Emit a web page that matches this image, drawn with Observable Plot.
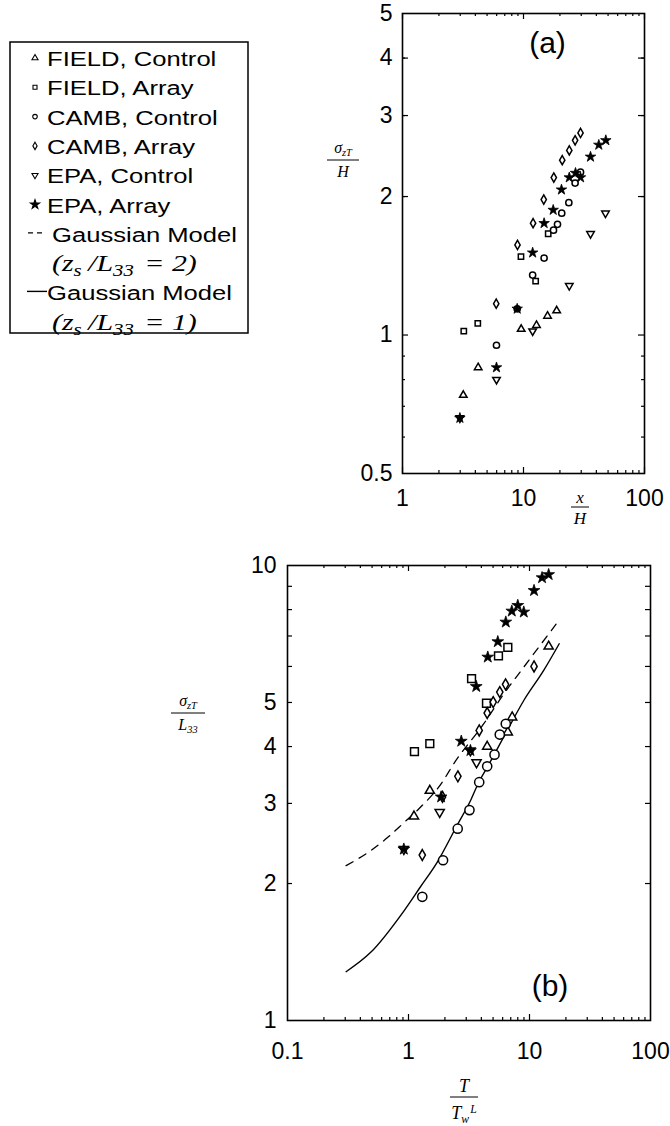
<!DOCTYPE html>
<html><head><meta charset="utf-8">
<script src="https://cdn.jsdelivr.net/npm/d3@7"></script>
<script src="https://cdn.jsdelivr.net/npm/@observablehq/plot@0.6"></script>
<style>
body{margin:0;background:#fff;}
#wrap{position:relative;width:670px;height:1126px;overflow:hidden;background:#fff;}
#wrap > svg{position:absolute;left:0;}
</style></head><body><div id="wrap"></div>
<script>
// ---------- Panel (a) data: x/H vs sigma_zT/H ----------
const aFieldControl = [[18.8,1.13],[15.8,1.10],[12.8,1.05],[9.57,1.03],[4.22,0.85],[3.18,0.74]];
const aFieldArray   = [[16.0,1.66],[9.53,1.48],[12.6,1.31],[4.19,1.06],[3.21,1.02]];
const aCambControl  = [[29.6,2.26],[26.7,2.14],[23.7,1.94],[20.7,1.84],[19.1,1.74],[17.7,1.69],[14.8,1.47],[11.9,1.35],[5.98,0.95],[8.87,1.14]];
const aCambArray    = [[29.6,2.75],[26.7,2.65],[23.9,2.52],[20.9,2.40],[17.8,2.20],[14.7,1.97],[12.0,1.75],[8.92,1.57],[5.95,1.17]];
const aEpaControl   = [[47.6,1.84],[35.8,1.66],[23.9,1.28],[11.9,1.02],[5.98,0.80],[2.98,0.66]];
const aEpaArray     = [[47.9,2.65],[41.9,2.59],[35.8,2.44],[26.9,2.25],[23.9,2.20],[29.6,2.20],[20.6,2.07],[17.6,1.87],[14.8,1.75],[11.9,1.51],[5.98,0.85],[2.98,0.66],[8.87,1.14]];

// ---------- Panel (b) data: T/TwL vs sigma_zT/L33 ----------
const bFieldControl = [[14.4,6.64],[7.19,4.64],[6.62,4.30],[4.47,4.00],[1.50,3.20],[1.11,2.81]];
const bFieldArray   = [[6.62,6.61],[5.54,6.33],[3.32,5.64],[4.41,4.98],[1.50,4.06],[1.12,3.90]];
const bCambControl  = [[6.37,4.49],[5.68,4.25],[5.14,3.84],[4.47,3.62],[3.84,3.34],[3.19,2.90],[2.55,2.64],[1.93,2.25],[1.30,1.87]];
const bCambArray    = [[10.9,6.00],[6.34,5.48],[5.68,5.27],[5.01,5.01],[4.47,4.74],[3.84,4.34],[2.56,3.44],[1.91,3.10],[1.30,2.31]];
const bEpaControl   = [[3.65,3.69],[3.25,3.92],[1.81,2.87],[0.915,2.38]];
const bEpaArray     = [[14.4,9.55],[12.7,9.40],[10.9,8.81],[8.00,8.17],[7.14,7.94],[8.97,7.90],[6.37,7.51],[5.47,6.80],[4.52,6.29],[3.63,5.42],[2.73,4.11],[3.25,3.92],[1.86,3.10],[0.915,2.38]];
const bModel2 = [[0.305,2.19],[0.485,2.36],[0.667,2.52],[0.915,2.72],[1.22,2.92],[1.90,3.34],[2.37,3.67],[4.19,4.49],[6.13,5.22],[8.97,5.98],[16.7,7.45]];
const bModel1 = [[0.305,1.28],[0.485,1.41],[0.915,1.74],[1.26,1.97],[1.73,2.23],[2.53,2.69],[3.25,3.04],[3.81,3.34],[4.47,3.60],[6.13,4.20],[8.97,5.05],[13.1,5.88],[17.6,6.73]];

// ---------- ticks ----------
const aXLabels = [1,10,100];
const aXMinor  = [2,3,4,5,6,7,8,9,20,30,40,50,60,70,80,90];
const aYLabels = [0.5,1,2,3,4,5];
const aYMinor  = [0.6,0.7,0.8,0.9,2,3,4];
const bXLabels = [0.1,1,10,100];
const bXMinor  = [0.2,0.3,0.4,0.5,0.6,0.7,0.8,0.9,2,3,4,5,6,7,8,9,20,30,40,50,60,70,80,90];
const bYLabels = [1,2,3,4,5,10];
const bYMinor  = [2,3,4,5,6,7,8,9];

const legendNames = ["FIELD, Control","FIELD, Array","CAMB, Control","CAMB, Array","EPA, Control","EPA, Array"];
const modelNames = ["Gaussian Model","Gaussian Model"];
const modelRatios = ["2","1"];

const FONT = "Liberation Sans, Arial, Helvetica, sans-serif";
const SERIF = "Liberation Serif, Times New Roman, serif";
const wrap = document.getElementById("wrap");

function pts(arr, sym, r, opts={}) {
  const filled = sym === "star";
  return Plot.dot(arr, {x: d => d[0], y: d => d[1], symbol: sym, r,
    stroke: "black", strokeWidth: filled ? 0.8 : 1.5, fill: filled ? "black" : "white", ...opts});
}
function tickMarks(fw, fh, xs, ys, lenX, lenY) {
  return [
    Plot.tickX(xs, {x: d => d, insetTop: fh - lenX, stroke: "black", strokeWidth: 1.2}),
    Plot.tickX(xs, {x: d => d, insetBottom: fh - lenX, stroke: "black", strokeWidth: 1.2}),
    Plot.tickY(ys, {y: d => d, insetRight: fw - lenY, stroke: "black", strokeWidth: 1.2}),
    Plot.tickY(ys, {y: d => d, insetLeft: fw - lenY, stroke: "black", strokeWidth: 1.2})
  ];
}

// ---------- Plot (a) ----------
const A = {w: 670, h: 530, ml: 402, mr: 26, mt: 13, mb: 57};
const aFW = A.w - A.ml - A.mr, aFH = A.h - A.mt - A.mb;
const plotA = Plot.plot({
  width: A.w, height: A.h, marginLeft: A.ml, marginRight: A.mr, marginTop: A.mt, marginBottom: A.mb,
  x: {type: "log", domain: [1, 100]},
  y: {type: "log", domain: [0.5, 5]},
  style: {fontFamily: FONT, fontSize: "23px", color: "black", background: "transparent", overflow: "visible"},
  marks: [
    Plot.frame({stroke: "black", strokeWidth: 1.6}),
    ...tickMarks(aFW, aFH, aXLabels, [1,2,3,4], 6, 6),
    ...tickMarks(aFW, aFH, aXMinor, aYMinor, 3, 3),
    Plot.axisX(aXLabels, {tickSize: 0, tickPadding: 16, label: null, tickFormat: d => String(d), fontSize: 23}),
    Plot.axisY(aYLabels, {tickSize: 0, tickPadding: 10, label: null, tickFormat: d => String(d), fontSize: 23}),
    pts(aFieldControl, "triangle", 2.8),
    pts(aFieldArray, "square", 3.0),
    pts(aCambControl, "circle", 3.1),
    pts(aCambArray, "diamond", 2.8),
    pts(aEpaControl, "triangle", 2.8, {rotate: 180}),
    pts(aEpaArray, "star", 3.3),
    Plot.text(["(a)"], {frameAnchor: "top", dx: 24, dy: 18, fontSize: 30, fontFamily: FONT})
  ]
});
plotA.style.top = "0px";
wrap.appendChild(plotA);

// ---------- Plot (b) ----------
const B = {top: 530, w: 670, h: 596, ml: 287, mr: 20, mt: 35, mb: 106};
const bFW = B.w - B.ml - B.mr, bFH = B.h - B.mt - B.mb;
const plotB = Plot.plot({
  width: B.w, height: B.h, marginLeft: B.ml, marginRight: B.mr, marginTop: B.mt, marginBottom: B.mb,
  x: {type: "log", domain: [0.1, 100]},
  y: {type: "log", domain: [1, 10]},
  style: {fontFamily: FONT, fontSize: "23px", color: "black", background: "transparent", overflow: "visible"},
  marks: [
    Plot.frame({stroke: "black", strokeWidth: 1.6}),
    ...tickMarks(bFW, bFH, [1,10], bYMinor, 6, 5),
    ...tickMarks(bFW, bFH, bXMinor, [], 3, 3),
    Plot.axisX(bXLabels, {tickSize: 0, tickPadding: 22, label: null, tickFormat: d => String(d), fontSize: 23}),
    Plot.axisY(bYLabels, {tickSize: 0, tickPadding: 11, label: null, tickFormat: d => String(d), fontSize: 23}),
    Plot.line(bModel2, {x: d => d[0], y: d => d[1], stroke: "black", strokeWidth: 1.3, strokeDasharray: "8,7", curve: "monotone-x"}),
    Plot.line(bModel1, {x: d => d[0], y: d => d[1], stroke: "black", strokeWidth: 1.4, curve: "monotone-x"}),
    pts(bFieldControl, "triangle", 3.4),
    pts(bFieldArray, "square", 4.4),
    pts(bCambControl, "circle", 4.6),
    pts(bCambArray, "diamond", 3.3),
    pts(bEpaControl, "triangle", 3.4, {rotate: 180}),
    pts(bEpaArray, "star", 3.7),
    Plot.text(["(b)"], {frameAnchor: "bottom", dx: 81, dy: -25, fontSize: 30, fontFamily: FONT})
  ]
});
plotB.style.top = B.top + "px";
wrap.appendChild(plotB);

// ---------- Overlay: legend and fraction axis labels ----------
const NS = "http://www.w3.org/2000/svg";
function el(tag, attrs, parent, text) {
  const e = document.createElementNS(NS, tag);
  for (const k in attrs) e.setAttribute(k, attrs[k]);
  if (text != null) e.textContent = text;
  if (parent) parent.appendChild(e);
  return e;
}
const ov = el("svg", {width: 670, height: 1126, viewBox: "0 0 670 1126"});
ov.style.position = "absolute"; ov.style.left = "0px"; ov.style.top = "0px"; ov.style.pointerEvents = "none";
wrap.appendChild(ov);

function partsText(parent, x, y, parts, size) {
  const t = el("text", {x, y, "text-anchor": "middle", "font-family": SERIF,
    "font-style": "italic", "font-size": size}, parent);
  let shift = 0;
  for (const [s, kind, dx] of parts) {
    let dy = 0, fs = size;
    if (kind === "sub") { fs = size * 0.65; dy = size * 0.2 - shift; shift = size * 0.2; }
    else if (kind === "sup") { fs = size * 0.65; dy = -size * 0.35 - shift; shift = -size * 0.35; }
    else { dy = -shift; shift = 0; }
    const attrs = {dy, "font-size": fs};
    if (dx) attrs.dx = dx;
    el("tspan", attrs, t, s);
  }
  return t;
}
function frac(cx, cy, num, den, bw, size, numGap, denGap) {
  const g = el("g", {}, ov);
  partsText(g, cx, cy - numGap, num, size);
  el("line", {x1: cx - bw/2, x2: cx + bw/2, y1: cy, y2: cy, stroke: "black", "stroke-width": 1}, g);
  partsText(g, cx, cy + denGap, den, size);
}
frac(343, 160, [["σ",""],["zT","sub"]], [["H",""]], 32, 16, 7, 17);
frac(580, 507, [["x",""]], [["H",""]], 18, 17, 4, 17);
frac(188, 713, [["σ",""],["zT","sub"]], [["L",""],["33","sub"]], 34, 16, 7, 17);
frac(464, 1097, [["T",""]], [["T",""],["w","sub"],["L","sup",1]], 28, 18, 5, 22);

// legend
const LG = {x: 10, y: 42, w: 238, h: 291, x0: 35, tx: 47, y0: 62, step: 29.3};
el("rect", {x: LG.x, y: LG.y, width: LG.w, height: LG.h, fill: "white", stroke: "black", "stroke-width": 1.5}, ov);
const legendSymbols = [["triangle",0],["square",0],["circle",0],["diamond",0],["triangle",180],["star",0]];
const symMap = {triangle: d3.symbolTriangle, square: d3.symbolSquare, circle: d3.symbolCircle, diamond: d3.symbolDiamond, star: d3.symbolStar};
function legendText(y, str, x) {
  const g = el("g", {transform: `translate(${x},${y}) scale(1.22,1)`}, ov);
  el("text", {x: 0, y: 0, "font-family": FONT, "font-size": 21, fill: "black"}, g, str);
}
legendNames.forEach((name, i) => {
  const cy = LG.y0 + i * LG.step;
  const [sym, rot] = legendSymbols[i];
  const filled = sym === "star";
  el("path", {d: d3.symbol(symMap[sym], filled ? 26 : 16)(), transform: `translate(${LG.x0},${cy - 4}) rotate(${rot})`,
    fill: filled ? "black" : "white", stroke: "black", "stroke-width": 1.1}, ov);
  legendText(cy + 4, name, LG.tx);
});
function ratioLine(y, val) {
  const g = el("g", {transform: `translate(52,${y}) scale(1.3,1)`}, ov);
  const t = el("text", {x: 0, y: 0, "font-family": SERIF, "font-style": "italic", "font-size": 23}, g);
  el("tspan", {}, t, "(z");
  el("tspan", {dy: 5, "font-size": 16}, t, "s");
  el("tspan", {dy: -5, dx: 5}, t, "/L");
  el("tspan", {dy: 5, "font-size": 16}, t, "33");
  el("tspan", {dy: -5, dx: 8}, t, "= " + val + ")");
}
modelNames.forEach((name, j) => {
  const cy = LG.y0 + (6 + 2 * j) * LG.step;
  if (j === 0) {
    el("line", {x1: 28, x2: 44, y1: cy - 5, y2: cy - 5, stroke: "black", "stroke-width": 1.2, "stroke-dasharray": "5,4"}, ov);
    legendText(cy + 4, name, 52);
  } else {
    el("line", {x1: 27, x2: 47, y1: cy - 5, y2: cy - 5, stroke: "black", "stroke-width": 1.4}, ov);
    legendText(cy + 4, name, 47);
  }
  ratioLine(cy + LG.step + 4, modelRatios[j]);
});
</script></body></html>
